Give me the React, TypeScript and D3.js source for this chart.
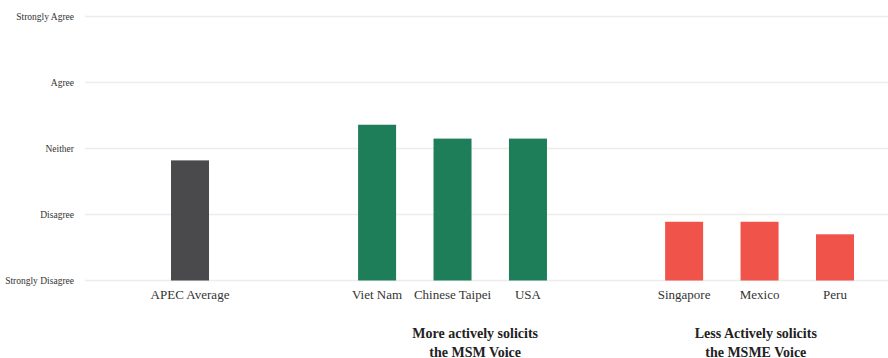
import React from "react";
import * as d3 from "d3";

const categories = ["APEC Average", "Viet Nam", "Chinese Taipei", "USA", "Singapore", "Mexico", "Peru"];
const values = [2.82, 3.36, 3.15, 3.15, 1.89, 1.89, 1.70];
const groups = ["avg", "more", "more", "more", "less", "less", "less"];
const slots = [0, 2.48, 3.48, 4.48, 6.55, 7.55, 8.55];
const tickLabels = ["Strongly Disagree", "Disagree", "Neither", "Agree", "Strongly Agree"];
const tickValues = [1, 2, 3, 4, 5];
const groupTitles = [
  { lines: ["More actively solicits", "the MSM Voice"], slot: 3.78 },
  { lines: ["Less Actively solicits", "the MSME Voice"], slot: 7.5 },
];
const colors: Record<string, string> = { avg: "#4a4a4c", more: "#1e7e5a", less: "#f0534a" };

export default function App() {
  const W = 888, H = 358;
  const y = d3.scaleLinear().domain([1, 5]).range([280.5, 16.5]);
  const x = d3.scaleLinear().domain([0, 8.55]).range([190, 835]);
  const barW = 38;
  const font = "'Liberation Serif', 'DejaVu Serif', serif";
  return (
    <svg width={W} height={H} style={{ position: "absolute", left: 0, top: 0 }} fontFamily={font}>
      {tickValues.map((t, i) => (
        <g key={t}>
          <line x1={85} x2={888} y1={y(t)} y2={y(t)} stroke="#ececec" strokeWidth={1.5} />
          <text x={74} y={y(t)} dy="0.35em" textAnchor="end" fontSize={9.5} fill="#333">
            {tickLabels[i]}
          </text>
        </g>
      ))}
      {categories.map((c, i) => (
        <g key={c}>
          <rect
            x={x(slots[i]) - barW / 2}
            y={y(values[i])}
            width={barW}
            height={y(1) - y(values[i])}
            fill={colors[groups[i]]}
          />
          <text x={x(slots[i])} y={294} dy="0.35em" textAnchor="middle" fontSize={13} fill="#333">
            {c}
          </text>
        </g>
      ))}
      {groupTitles.map((g) => (
        <text key={g.lines[0]} x={x(g.slot)} y={333} textAnchor="middle" fontSize={14} fontWeight="bold" fill="#222">
          {g.lines.map((l, j) => (
            <tspan key={l} x={x(g.slot)} dy={j === 0 ? "0.35em" : 19}>
              {l}
            </tspan>
          ))}
        </text>
      ))}
    </svg>
  );
}
